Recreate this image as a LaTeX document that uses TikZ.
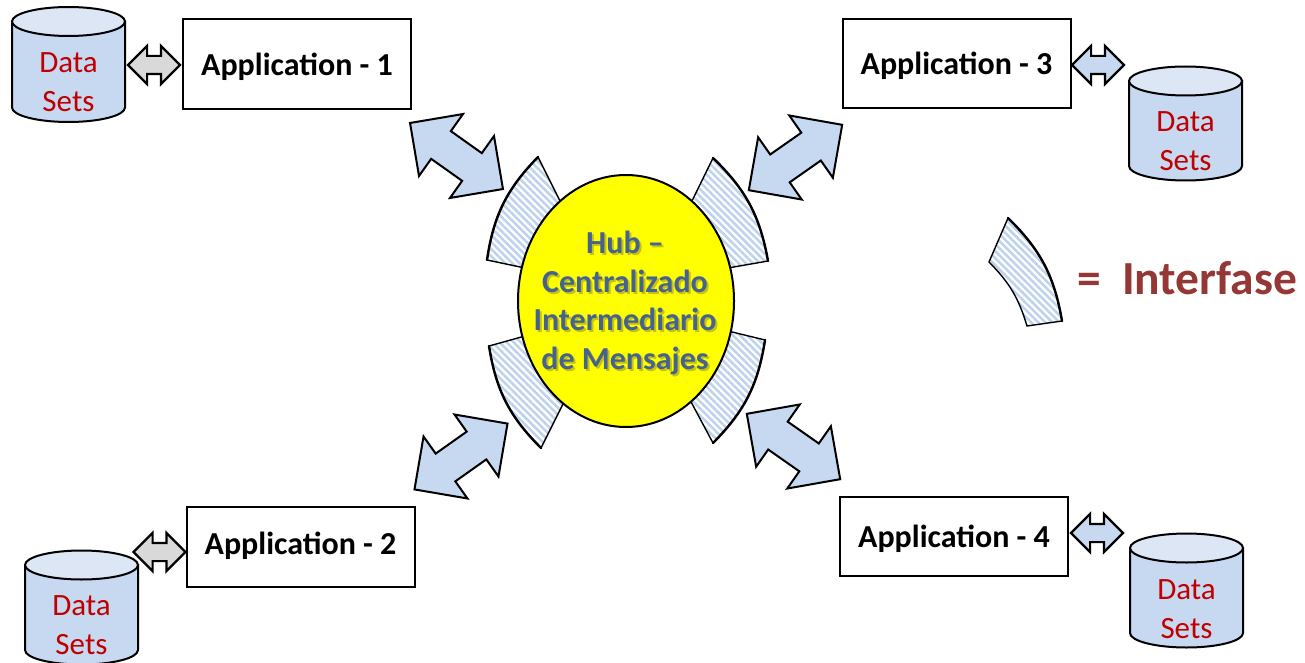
\documentclass[tikz,border=0pt]{standalone}
\usepackage{fontspec}
\setmainfont{Carlito}
\usetikzlibrary{shapes.arrows, shapes.geometric, patterns.meta}
\definecolor{light}{RGB}{220, 230, 244}
\definecolor{mid}{RGB}{198, 217, 241}
\definecolor{stripe}{RGB}{190, 210, 238}
\definecolor{grayarrow}{RGB}{217, 217, 217}
\definecolor{hubfill}{RGB}{255, 255, 0}
\definecolor{hubtext}{RGB}{68, 100, 143}
\definecolor{hubshade}{RGB}{170, 160, 30}
\definecolor{datatext}{RGB}{192, 0, 0}
\definecolor{legendtext}{RGB}{149, 55, 53}
\tikzset{
  appbox/.style={draw, line width=2pt, fill=white, minimum width=228, minimum height=#1,
    text depth=0pt, font=\fontsize{32}{35}\selectfont\bfseries},
  datalabel/.style={align=center, text=datatext, font=\fontsize{31}{39}\selectfont},
  bigarrow/.style={draw, line width=2pt, fill=mid, double arrow, inner xsep=0, inner ysep=16,
    minimum height=114, double arrow head extend=21, rotate=#1},
  smallarrow/.style={draw, line width=2.2pt, fill=#1, double arrow, inner xsep=0, inner ysep=8,
    minimum height=52, double arrow head extend=10},
  hubname/.style={align=center, font=\fontsize{32}{38.4}\selectfont\bfseries},
  hatched/.style={pattern={Lines[angle=-45, distance=5pt, line width=2.5pt]},
    pattern color=stripe}
}
\newcommand{\interfase}[5]{
  \fill[white] (#1) to[bend right=18] (#2) -- (#3) to[bend right=#5] (#4) -- cycle;
  \draw[hatched, line width=1.4pt] (#1) to[bend right=18] (#2) -- (#3) to[bend right=#5] (#4) -- cycle;
  \draw[line width=2.4pt, line cap=round] (#1) to[bend right=18] (#2);
}
\begin{document}
\begin{tikzpicture}[x=1pt, y=-1pt]

  \useasboundingbox (0, 0) rectangle (1305, 663);

  % interfaces round the hub
  \interfase{538, 157}{487, 260}{525, 268}{562, 205}{0}
  \interfase{768, 261}{713, 158}{690, 205}{728, 268}{0}
  \interfase{489, 346}{541, 448}{565, 400}{525, 336}{0}
  \interfase{713, 443}{765, 340}{728, 331}{690, 400}{0}

  \node[draw, line width=2pt, fill=hubfill, ellipse, minimum width=216, minimum height=252, inner sep=0] (hub) at (626, 301) {};
  \node[hubname, text=hubshade, opacity=0.65] (hubshadow) at (627, 305) {Hub --\\Centralizado\\Intermediario\\de Mensajes};
  \node[hubname, text=hubtext] (hubtitle) at (625, 303) {Hub --\\Centralizado\\Intermediario\\de Mensajes};

  \node[appbox=90] (app1) at (297, 64) {Application - 1};
  \node[appbox=80, text depth=8pt] (app2) at (300.5, 547) {Application - 2};
  \node[appbox=89] (app3) at (956.5, 63.5) {Application - 3};
  \node[appbox=79] (app4) at (954, 536.5) {Application - 4};

  \foreach \n/\x/\t/\b/\l in {1/68.5/21.5/107.5/82.5, 2/81.5/565/650/625.5, 3/1185.5/81/166/141, 4/1186.5/548/633/609} {
    \draw[line width=2pt, fill=mid] ({\x-56.5}, \t) -- ({\x-56.5}, \b)
      arc[start angle=180, end angle=360, x radius=56.5pt, y radius=14.5pt] -- ({\x+56.5}, \t) -- cycle;
    \draw[line width=2pt, fill=light] (\x, \t) ellipse [x radius=56.5pt, y radius=14.5pt];
    \node[datalabel] (data\n) at (\x, \l) {Data\\Sets};
  }

  % block arrows
  \node[bigarrow=-35.4] (link1) at (456.5, 156) {};
  \node[bigarrow=35.3] (link2) at (461, 456.5) {};
  \node[bigarrow=35] (link3) at (795.5, 157.5) {};
  \node[bigarrow=-35] (link4) at (793.5, 446.5) {};

  \node[smallarrow=grayarrow] (store1) at (154, 65) {};
  \node[smallarrow=grayarrow] (store2) at (159.5, 552) {};
  \node[smallarrow=mid] (store3) at (1098, 65) {};
  \node[smallarrow=mid] (store4) at (1097, 533) {};

  % legend
  \interfase{1062, 321}{1008, 218}{989, 262}{1027, 326}{-14}
  \node[anchor=west, text=legendtext, font=\fontsize{47.5}{50}\selectfont\bfseries] (legend) at (1073.5, 278) {=\ \ Interfase};

\end{tikzpicture}
\end{document}
